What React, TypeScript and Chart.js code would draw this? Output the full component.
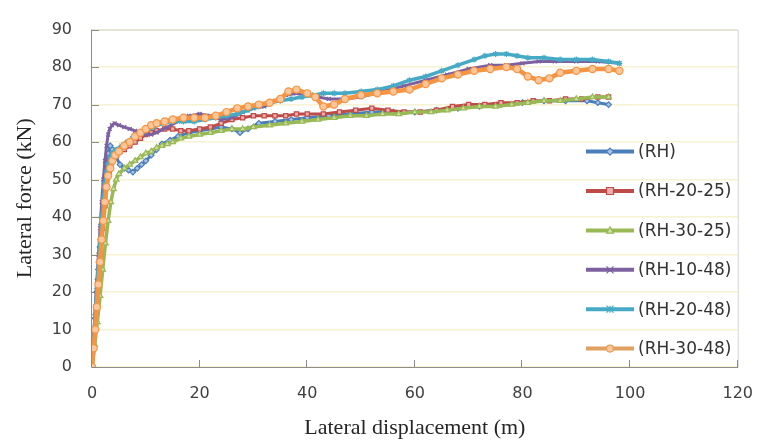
import React, { useEffect, useRef } from "react";
import { Chart, registerables } from "chart.js";

Chart.register(...registerables);

// ---------- data ----------
const seriesNames = ["(RH)", "(RH-20-25)", "(RH-30-25)", "(RH-10-48)", "(RH-20-48)", "(RH-30-48)"];
const xTickValues = [0, 20, 40, 60, 80, 100, 120];
const yTickValues = [0, 10, 20, 30, 40, 50, 60, 70, 80, 90];

const rhX = [0, 0.3, 0.6, 0.9, 1.2, 1.5, 1.8, 2.1, 2.4, 2.7, 3, 3.4, 3.8, 4.5, 5.2, 6, 6.8, 7.6, 8.4, 9.2, 10, 11, 12, 13, 14.5, 16, 18, 20, 22, 24, 26, 27.5, 29, 31, 34, 37, 40, 44, 48, 52, 56, 60, 64, 68, 72, 76, 80, 84, 88, 92, 94, 96];
const rhY = [0, 6, 13, 20, 26, 32, 38, 44, 49, 54, 57, 59, 58, 56, 54, 53, 52.5, 52, 53, 54, 55, 56.5, 58, 59.5, 60.5, 61.5, 62.5, 63, 63.5, 64, 63.5, 62.5, 63.5, 65, 65.5, 66, 66.5, 67, 67.5, 68, 68, 68, 68.5, 69, 69.5, 70, 70.5, 71, 71, 71, 70.5, 70];

const rh2025X = [0, 0.4, 0.8, 1.2, 1.6, 2, 2.4, 2.8, 3.2, 3.6, 4, 4.6, 5.2, 6, 7, 8, 9, 10, 11, 12, 13.5, 15, 16.5, 18, 20, 22, 24, 26, 28, 30, 32, 34, 36, 38, 40, 43, 46, 49, 52, 55, 58, 61, 64, 67, 70, 73, 76, 79, 82, 85, 88, 91, 94, 96];
const rh2025Y = [0, 8, 16, 23, 30, 37, 43, 48, 52, 54.5, 56, 57, 57.5, 58, 59, 60, 61, 62, 62.5, 63, 63.5, 63.5, 63, 63, 63.5, 64, 65, 66, 66.5, 67, 67, 67, 67, 67.5, 67.5, 67.5, 68, 68.5, 69, 68.5, 68, 68, 68.5, 69.5, 70, 70, 70.5, 70.5, 71, 71, 71.5, 71.5, 72, 72];

const rh3025X = [0, 0.5, 1, 1.5, 2, 2.5, 3, 3.5, 4, 4.5, 5, 6, 7, 8, 9, 10, 11, 12, 13, 14, 15, 16.5, 18, 20, 22, 24, 26, 28, 30, 33, 36, 39, 42, 45, 48, 51, 54, 57, 60, 63, 66, 69, 72, 75, 78, 81, 84, 87, 90, 93, 96];
const rh3025Y = [0, 6, 12, 19, 26, 33, 39, 44, 47.5, 50, 51.5, 53, 54, 55, 56, 57, 57.5, 58.5, 59, 59.5, 60, 61, 61.5, 62, 62.5, 63, 63.5, 63.5, 64, 64.5, 65, 65.5, 66, 66.5, 67, 67, 67.5, 67.5, 68, 68, 68.5, 69, 69.5, 69.5, 70, 70.5, 71, 71, 71.5, 72, 72];

const rh1048X = [0, 0.3, 0.6, 0.9, 1.2, 1.5, 1.8, 2.1, 2.4, 2.7, 3, 3.3, 3.7, 4.2, 5, 6, 7, 8, 9, 10, 11, 12, 14, 16, 18, 20, 22, 24, 26, 28, 30, 32, 34, 36, 38, 40, 42, 44, 47, 50, 54, 58, 62, 66, 70, 74, 77, 80, 83, 86, 90, 94, 98];
const rh1048Y = [0, 8, 16, 23, 30, 37, 44, 50, 55, 59, 62, 63.5, 64.5, 65, 64.5, 64, 63.5, 63, 62.5, 62, 62, 62.5, 64, 65.5, 67, 67.5, 67, 66, 66.5, 68, 69, 69.5, 71, 72.5, 73, 72.5, 72, 71.5, 71.5, 72, 73.5, 75, 76.5, 78, 79.5, 80.5, 80.5, 81, 81.5, 81.5, 81.5, 81.5, 81];

const rh2048X = [0, 0.3, 0.6, 0.9, 1.2, 1.5, 1.8, 2.1, 2.4, 2.7, 3, 3.4, 3.8, 4.5, 5.5, 6.5, 7.5, 8.5, 10, 11.5, 13, 15, 17, 19, 21, 23, 25, 27, 29, 31, 33, 35, 37, 39, 41, 43, 45, 47, 50, 53, 56, 59, 62, 65, 68, 71, 73, 75, 77, 79, 81, 84, 87, 90, 93, 96, 98];
const rh2048Y = [0, 7, 14, 21, 28, 34, 40, 45, 49, 52, 54, 56, 57, 58, 59, 60, 61, 62, 63, 64, 65, 65.5, 65.5, 65.5, 66, 66.5, 67, 67.5, 68.5, 69.5, 70.5, 71, 71.5, 72, 72.5, 73, 73, 73, 73.5, 74, 75, 76.5, 77.5, 79, 80.5, 82, 83, 83.5, 83.5, 83, 82.5, 82.5, 82, 82, 82, 81.5, 81];

const rh3048X = [0, 0.3, 0.6, 0.9, 1.2, 1.5, 1.8, 2.1, 2.4, 2.7, 3, 3.4, 3.8, 4.3, 5, 6, 7, 8, 9, 10, 11, 12, 13.5, 15, 17, 19, 21, 23, 25, 27, 29, 31, 33, 35, 36.5, 38, 40, 41.5, 43, 45, 47, 50, 53, 56, 59, 62, 65, 68, 71, 74, 77, 79, 81, 83, 85, 87, 90, 93, 96, 98];
const rh3048Y = [0, 5, 10, 16, 22, 28, 34, 39, 44, 48, 51, 53, 55, 56.5, 57.5, 59, 60, 61.5, 62.5, 63.5, 64.5, 65, 65.5, 66, 66.5, 66.5, 66.5, 67, 68, 69, 69.5, 70, 70.5, 71.5, 73.5, 74, 73, 72, 69.5, 70, 71.5, 72.5, 73, 73.5, 74, 75.5, 77, 78, 79, 79.5, 80, 79.5, 77.5, 76.5, 77, 78.5, 79, 79.5, 79.5, 79];

const seriesX = [rhX, rh2025X, rh3025X, rh1048X, rh2048X, rh3048X];
const seriesY = [rhY, rh2025Y, rh3025Y, rh1048Y, rh2048Y, rh3048Y];

// ---------- styles ----------
const lineColors = ["#4A7EBB", "#BE4B48", "#98B954", "#7D60A0", "#46AAC5", "#F59443"];
const fillColors = ["#A9C2E3", "#EBAFAD", "#CFE0A8", "#BFB0D6", "#A9DBE8", "#FBC79A"];
const legendLineColors = ["#4A7EBB", "#BE4B48", "#98B954", "#7D60A0", "#46AAC5", "#E0A060"];
const pointStyles = ["rectRot", "rect", "triangle", "crossRot", "star", "circle"];
const lineWidths = [3, 3, 3.5, 3, 3.5, 4.5];
const pointRadii = [2.8, 3, 3.2, 2.8, 3, 3.6];

function drawMarker(ctx: CanvasRenderingContext2D, style: string, x: number, y: number, r: number, fill: string, stroke: string) {
  ctx.save();
  ctx.fillStyle = fill;
  ctx.strokeStyle = stroke;
  ctx.lineWidth = 1.2;
  ctx.beginPath();
  if (style === "rectRot") {
    ctx.moveTo(x, y - r); ctx.lineTo(x + r, y); ctx.lineTo(x, y + r); ctx.lineTo(x - r, y); ctx.closePath();
    ctx.fill(); ctx.stroke();
  } else if (style === "rect") {
    ctx.rect(x - r, y - r, 2 * r, 2 * r); ctx.fill(); ctx.stroke();
  } else if (style === "triangle") {
    ctx.moveTo(x, y - r); ctx.lineTo(x + r, y + r * 0.8); ctx.lineTo(x - r, y + r * 0.8); ctx.closePath();
    ctx.fill(); ctx.stroke();
  } else if (style === "crossRot") {
    ctx.moveTo(x - r, y - r); ctx.lineTo(x + r, y + r); ctx.moveTo(x + r, y - r); ctx.lineTo(x - r, y + r); ctx.stroke();
  } else if (style === "star") {
    ctx.moveTo(x - r, y - r); ctx.lineTo(x + r, y + r); ctx.moveTo(x + r, y - r); ctx.lineTo(x - r, y + r);
    ctx.moveTo(x, y - r); ctx.lineTo(x, y + r); ctx.stroke();
  } else {
    ctx.arc(x, y, r, 0, Math.PI * 2); ctx.fill(); ctx.stroke();
  }
  ctx.restore();
}

const framePlugin = {
  id: "frameAndTicks",
  beforeDatasetsDraw(chart: any) {
    const { ctx, chartArea } = chart;
    const { left, right, top, bottom } = chartArea;
    const xs = chart.scales.x;
    const ys = chart.scales.y;
    ctx.save();
    ctx.strokeStyle = "#d4d4d4";
    ctx.lineWidth = 1;
    ctx.beginPath();
    ctx.moveTo(left, top + 0.5); ctx.lineTo(right + 0.5, top + 0.5); ctx.lineTo(right + 0.5, bottom);
    ctx.stroke();
    ctx.strokeStyle = "#8c8c8c";
    ctx.beginPath();
    ctx.moveTo(left - 0.5, top); ctx.lineTo(left - 0.5, bottom + 0.5); ctx.lineTo(right + 0.5, bottom + 0.5);
    ctx.stroke();
    ctx.beginPath();
    yTickValues.forEach((v) => {
      const p = Math.round(ys.getPixelForValue(v)) + 0.5;
      ctx.moveTo(left, p); ctx.lineTo(left + 7, p);
    });
    xTickValues.forEach((v) => {
      const p = Math.round(xs.getPixelForValue(v)) - 0.5;
      ctx.moveTo(p, bottom); ctx.lineTo(p, bottom - 7);
    });
    ctx.stroke();
    ctx.restore();
  },
};

const legendPlugin = {
  id: "insideLegend",
  afterDraw(chart: any) {
    const { ctx, chartArea } = chart;
    const x0 = chartArea.left + 494;
    const y0 = chartArea.top + 122;
    const gap = 39.4;
    ctx.save();
    seriesNames.forEach((name, i) => {
      const y = y0 + i * gap;
      ctx.strokeStyle = legendLineColors[i];
      ctx.lineWidth = 4;
      ctx.lineCap = "butt";
      ctx.beginPath();
      ctx.moveTo(x0, y); ctx.lineTo(x0 + 48, y);
      ctx.stroke();
      drawMarker(ctx, pointStyles[i], x0 + 24, y, 3.5, fillColors[i], legendLineColors[i]);
      ctx.fillStyle = "#333333";
      ctx.font = "17px 'DejaVu Sans'";
      ctx.textAlign = "left";
      ctx.textBaseline = "middle";
      ctx.fillText(name, x0 + 52, y + 1);
    });
    ctx.restore();
  },
};

export default function App() {
  const canvasRef = useRef<HTMLCanvasElement | null>(null);

  useEffect(() => {
    document.body.style.margin = "0";
    const canvas = canvasRef.current;
    if (!canvas) return;
    const datasets = seriesNames.map((name, i) => ({
      label: name,
      data: seriesX[i].map((x, k) => ({ x, y: seriesY[i][k] })),
      borderColor: lineColors[i],
      backgroundColor: fillColors[i],
      borderWidth: lineWidths[i],
      pointStyle: pointStyles[i] as any,
      pointRadius: pointRadii[i],
      pointBorderWidth: 1.2,
      pointBorderColor: lineColors[i],
      pointBackgroundColor: fillColors[i],
      tension: 0,
      fill: false,
      order: 6 - i,
    }));

    const chart = new Chart(canvas, {
      type: "line",
      data: { datasets },
      options: {
        responsive: false,
        animation: false,
        devicePixelRatio: 1,
        layout: { padding: { top: 15, right: 19, left: 0, bottom: 0 } },
        plugins: { legend: { display: false }, tooltip: { enabled: false } },
        scales: {
          x: {
            type: "linear",
            min: 0,
            max: 120,
            afterFit: (s: any) => { s.height = 77; },
            ticks: {
              stepSize: 20,
              padding: 17,
              color: "#404040",
              font: { family: "'DejaVu Sans'", size: 16 },
            },
            grid: { display: false, drawTicks: false },
            border: { display: false },
            title: {
              display: true,
              text: "Lateral displacement (m)",
              color: "#262626",
              font: { family: "'Liberation Serif'", size: 22 },
              padding: { top: 0, bottom: 3 },
            },
          },
          y: {
            type: "linear",
            min: 0,
            max: 90,
            afterFit: (s: any) => { s.width = 92; },
            ticks: {
              stepSize: 10,
              padding: 20,
              color: "#404040",
              font: { family: "'DejaVu Sans'", size: 16 },
            },
            grid: { color: "#f6f2d2", lineWidth: 1.5, drawTicks: false },
            border: { display: false },
            title: {
              display: true,
              text: "Lateral force (kN)",
              color: "#262626",
              font: { family: "'Liberation Serif'", size: 22 },
              padding: { top: 12, bottom: 0 },
            },
          },
        },
      },
      plugins: [framePlugin, legendPlugin],
    });
    return () => chart.destroy();
  }, []);

  return (
    <div style={{ width: 770, height: 444, background: "#ffffff" }}>
      <canvas ref={canvasRef} width={770} height={444} />
    </div>
  );
}
